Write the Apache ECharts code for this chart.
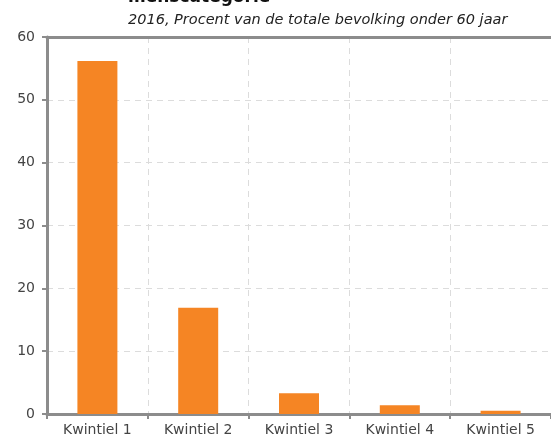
<!DOCTYPE html>
<html>
<head>
<meta charset="utf-8">
<script src="https://cdn.jsdelivr.net/npm/echarts@6/dist/echarts.min.js"></script>
<style>
  html, body { margin: 0; padding: 0; background: #fff; }
  #chart { width: 551px; height: 437px; }
</style>
</head>
<body>
<div id="chart"></div>
<script>
var categories = ["Kwintiel 1", "Kwintiel 2", "Kwintiel 3", "Kwintiel 4", "Kwintiel 5"];
var values = [56.2, 16.9, 3.3, 1.4, 0.5];
var titleText = "menscategorie";
var subtitleText = "2016, Procent van de totale bevolking onder 60 jaar";

var font = "DejaVu Sans";
var axisGray = "#8c8c8c";

var chart = echarts.init(document.getElementById("chart"));
chart.setOption({
    animation: false,
    title: {
        text: titleText,
        subtext: subtitleText,
        left: 123,
        top: -16,
        itemGap: 7,
        textStyle: { fontFamily: font, fontSize: 17, fontWeight: "bold", color: "#111" },
        subtextStyle: { fontFamily: font, fontSize: 14.5, fontStyle: "italic", color: "#222" }
    },
    grid: { left: 47, top: 37, width: 506, bottom: 21, containLabel: false },
    xAxis: [
        {
            type: "category",
            data: categories,
            axisLine: { lineStyle: { color: axisGray, width: 3 } },
            axisTick: { show: true, length: 5, lineStyle: { color: axisGray, width: 2 } },
            axisLabel: { fontFamily: font, fontSize: 14, color: "#444", margin: 9 },
            splitLine: { show: true, lineStyle: { color: "#dcdcdc", type: [6, 5], width: 1 } }
        },
        {
            type: "category",
            data: categories,
            position: "top",
            axisLine: { lineStyle: { color: axisGray, width: 3 } },
            axisTick: { show: false },
            axisLabel: { show: false }
        }
    ],
    yAxis: {
        type: "value",
        min: 0,
        max: 60,
        interval: 10,
        axisLine: { show: true, lineStyle: { color: axisGray, width: 3 } },
        axisTick: { show: true, length: 5, lineStyle: { color: axisGray, width: 2 } },
        axisLabel: { fontFamily: font, fontSize: 14, color: "#444", margin: 12 },
        splitLine: { show: true, lineStyle: { color: "#dcdcdc", type: [6, 5], width: 1 } }
    },
    series: [
        {
            type: "bar",
            data: values,
            barWidth: 40,
            itemStyle: { color: "#f58524" }
        }
    ]
});
</script>
</body>
</html>
